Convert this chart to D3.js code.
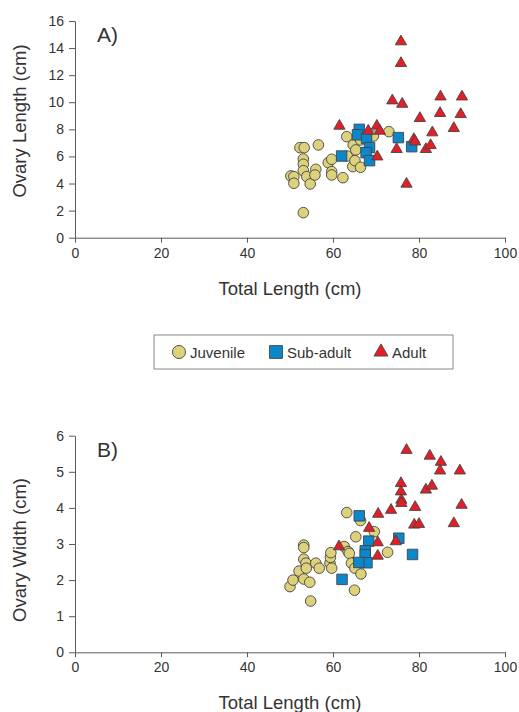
<!DOCTYPE html>
<html>
<head>
<meta charset="utf-8">
<script src="https://cdn.jsdelivr.net/npm/d3@7"></script>
<style>
  body { margin: 0; background: #fff; }
  svg { display: block; font-family: "Liberation Sans", Arial, sans-serif; }
</style>
</head>
<body>
<svg width="519" height="712"></svg>
<script>
// tick labels
const xTicks = [0, 20, 40, 60, 80, 100];
const lengthTicks = [0, 2, 4, 6, 8, 10, 12, 14, 16];
const widthTicks = [0, 1, 2, 3, 4, 5, 6];
const groups = ["Juvenile", "Sub-adult", "Adult"];

// A) total length vs ovary length
const juvenileA = [[52.3,6.65],[53.3,6.65],[56.6,6.85],[63.2,7.46],[53.1,5.81],[53.1,5.42],[53.1,4.95],
  [50.2,4.56],[50.9,4.51],[50.9,4.02],[53.9,4.51],[54.7,3.97],[56.0,5.05],[55.8,4.63],[58.9,5.54],
  [59.7,5.79],[59.7,4.88],[59.7,4.63],[62.3,4.43],[63.3,6.03],[64.6,5.25],[64.7,6.85],[65.3,6.48],
  [65.1,5.69],[66.4,7.22],[66.4,5.20],[69.4,7.51],[73.0,7.83],[53.1,1.85]];
const subAdultA = [[66.1,8.0],[65.7,7.6],[67.8,7.34],[68.5,6.65],[67.7,6.28],[68.5,5.69],[62.0,6.03],
  [75.2,7.39],[78.3,6.72]];
const adultA = [[75.8,14.48],[75.8,12.88],[73.8,10.12],[76.1,9.87],[85.0,10.41],[90.0,10.41],[80.2,8.82],
  [84.9,9.19],[89.7,9.11],[61.5,8.25],[70.2,8.25],[70.9,7.88],[68.2,7.88],[83.1,7.76],[88.1,8.08],
  [78.8,7.27],[79.1,7.09],[74.8,6.53],[81.6,6.53],[82.7,6.82],[70.3,5.98],[77.1,3.97]];

// B) total length vs ovary width
const juvenileB = [[50.0,1.82],[50.7,2.0],[52.1,2.25],[53.2,2.97],[53.2,2.9],[53.2,2.58],[53.2,2.03],
  [53.7,2.47],[53.8,2.33],[54.6,1.94],[54.8,1.42],[56.0,2.47],[56.8,2.33],[59.3,2.47],[59.4,2.63],
  [59.5,2.76],[59.7,2.33],[62.6,2.93],[63.2,3.87],[63.5,2.79],[63.8,2.74],[64.3,2.47],[65.1,2.33],
  [65.3,3.2],[65.0,1.72],[66.5,2.17],[66.4,3.65],[69.6,3.34],[72.7,2.77]];
const subAdultB = [[66.1,3.78],[68.3,3.08],[67.5,2.81],[67.5,2.70],[67.9,2.48],[66.0,2.49],[62.1,2.02],
  [75.3,3.16],[78.5,2.71]];
const adultB = [[77.1,5.60],[82.5,5.44],[85.1,5.27],[84.9,5.03],[89.5,5.03],[75.8,4.68],[75.8,4.45],
  [75.9,4.22],[75.9,4.13],[81.6,4.50],[83.0,4.61],[89.9,4.08],[79.1,4.02],[73.5,3.94],[70.5,3.83],
  [78.9,3.53],[80.0,3.55],[88.1,3.57],[68.4,3.44],[70.4,3.04],[74.6,3.07],[61.4,2.93],[70.4,2.67]];

const svg = d3.select("svg");
const axisColor = "#5a5a5a";
const textColor = "#333";

const style = {
  "Juvenile":  { fill: "#ddd17c", shape: d3.symbolCircle,   size: 88,  legendSize: 135 },
  "Sub-adult": { fill: "#0b88cc", shape: d3.symbolSquare,   size: 110, legendSize: 165 },
  "Adult":     { fill: "#e31e26", shape: d3.symbolTriangle, size: 55,  legendSize: 85 }
};

const x = d3.scaleLinear().domain([0, 100]).range([75, 505]);

function drawPanel(opts) {
  const y = d3.scaleLinear().domain([0, opts.max]).range([opts.bottom, opts.top]);
  const g = svg.append("g");

  // axes
  const xa = g.append("g")
    .attr("transform", `translate(0,${opts.bottom})`)
    .call(d3.axisBottom(x).tickValues(xTicks).tickSize(5).tickSizeOuter(0).tickPadding(5));
  const ya = g.append("g")
    .attr("transform", `translate(75,0)`)
    .call(d3.axisLeft(y).tickValues(opts.ticks).tickFormat(d3.format("d"))
      .tickSize(6).tickSizeOuter(0).tickPadding(5));
  [xa, ya].forEach(a => {
    a.selectAll("path, line").attr("stroke", axisColor);
    a.selectAll("text").attr("fill", textColor).style("font-size", "14px");
  });

  // points
  opts.series.forEach(s => {
    const st = style[s.name];
    g.append("g").selectAll("path")
      .data(s.data)
      .enter().append("path")
      .attr("transform", d => `translate(${x(d[0])},${y(d[1])})`)
      .attr("d", d3.symbol().type(st.shape).size(st.size))
      .attr("fill", st.fill)
      .attr("stroke", "#444")
      .attr("stroke-width", 0.9);
  });

  // panel letter
  svg.append("text")
    .attr("x", 97).attr("y", opts.top + 21)
    .attr("fill", textColor)
    .style("font-size", "21px")
    .text(opts.letter);

  // axis titles
  svg.append("text")
    .attr("transform", `translate(26,${opts.titleY}) rotate(-90)`)
    .attr("text-anchor", "middle")
    .attr("fill", textColor)
    .style("font-size", "18.5px")
    .text(opts.yTitle);

  svg.append("text")
    .attr("x", 290).attr("y", opts.bottom + 57)
    .attr("text-anchor", "middle")
    .attr("fill", textColor)
    .style("font-size", "18.5px")
    .text("Total Length (cm)");
}

drawPanel({
  letter: "A)", top: 21, bottom: 237.7, max: 16, ticks: lengthTicks,
  yTitle: "Ovary Length (cm)", titleY: 121,
  series: [{ name: "Juvenile", data: juvenileA }, { name: "Sub-adult", data: subAdultA }, { name: "Adult", data: adultA }]
});

drawPanel({
  letter: "B)", top: 435.7, bottom: 652.3, max: 6, ticks: widthTicks,
  yTitle: "Ovary Width (cm)", titleY: 550,
  series: [{ name: "Juvenile", data: juvenileB }, { name: "Sub-adult", data: subAdultB }, { name: "Adult", data: adultB }]
});

// Legend
const legend = svg.append("g").attr("transform", "translate(154,335)");
legend.append("rect")
  .attr("width", 299).attr("height", 34)
  .attr("fill", "#fff").attr("stroke", "#888").attr("stroke-width", 1);

const item = legend.selectAll(".item")
  .data(groups)
  .enter().append("g")
  .attr("class", "item")
  .attr("transform", (d, i) => `translate(${[25, 122, 227][i]},17)`);

item.append("path")
  .attr("d", d => d3.symbol().type(style[d].shape).size(style[d].legendSize)())
  .attr("fill", d => style[d].fill)
  .attr("stroke", "#444")
  .attr("stroke-width", 0.9);

item.append("text")
  .attr("x", 11).attr("y", 5.5)
  .attr("fill", textColor)
  .style("font-size", "15px")
  .text(d => d);
</script>
</body>
</html>
